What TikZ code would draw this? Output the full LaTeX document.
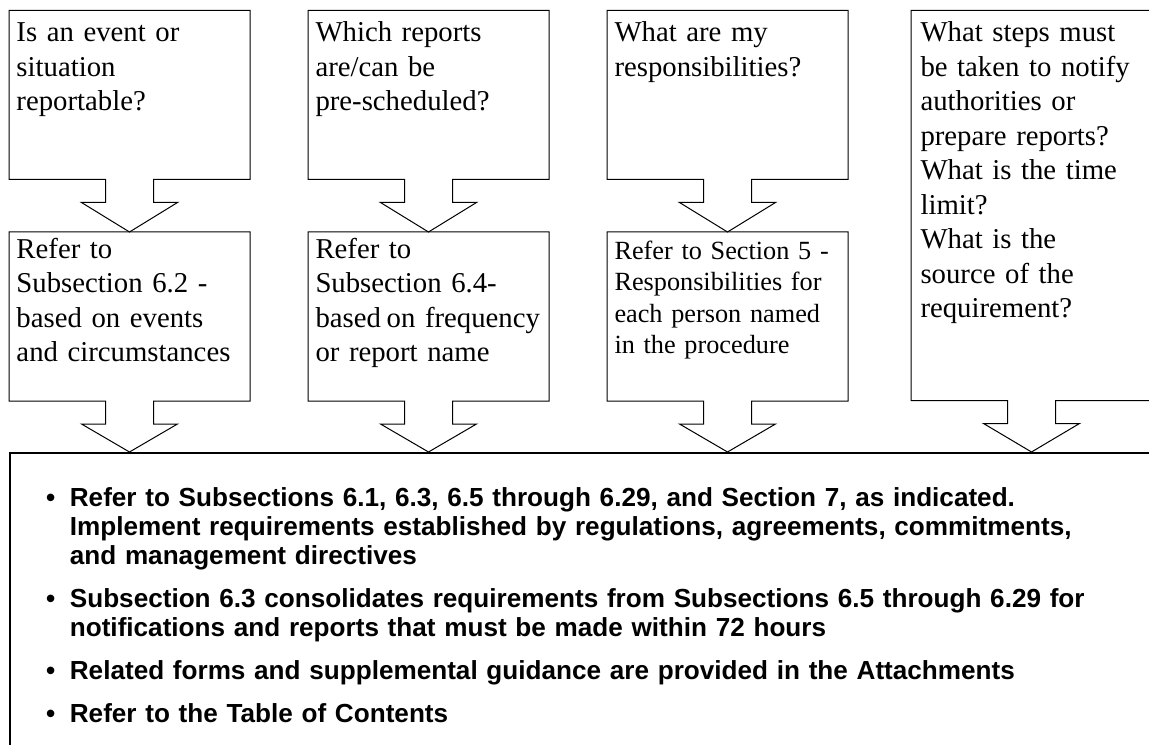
\documentclass[tikz,border=0pt]{standalone}
\usepackage{fontspec}
\setmainfont{Liberation Serif}
\newfontfamily\notesfont{Liberation Sans}
\usepackage{tikz}
\usetikzlibrary{positioning,calc}
\tikzset{
  node-ask/.style={rectangle,inner xsep=2.8pt,inner ysep=0pt,
    text width=90.4pt,align=left,text height=12.4pt,text depth=54.8pt,
    font=\fontsize{11.5}{13.8}\selectfont},
  node-ref/.style={node-ask,text height=10.4pt,text depth=56.8pt},
  node-notes/.style={draw,line width=0.7pt,inner xsep=14.2pt,inner ysep=0pt,
    text width=440pt,text height=10pt,text depth=130pt,
    font=\notesfont\bfseries\fontsize{10.45}{11.6}\selectfont},
  callout-line/.style={draw,line width=0.4pt,line join=miter},
}
% box with a down arrow that ends on the top of the next box
\newcommand\drawcallout[2]{%
  \draw[callout-line] ([xshift=-9.6pt]#1.south) -- (#1.south west) -- (#1.north west)
    -- (#1.north east) -- (#1.south east) -- ([xshift=9.6pt]#1.south)
    -- ([xshift=9.6pt,yshift=-9.2pt]#1.south) -- ([xshift=19.2pt,yshift=-9.2pt]#1.south)
    -- (#1.south |- #2.north) -- ([xshift=-19.2pt,yshift=-9.2pt]#1.south)
    -- ([xshift=-9.6pt,yshift=-9.2pt]#1.south) -- cycle;}

\begin{document}
\begin{tikzpicture}[x=0.4pt,y=-0.4pt]
  \useasboundingbox (0,0) rectangle (1149,745);
  \clip (0,0) rectangle (1149,745);
  % questions
  \node[node-ask,anchor=north west] (ev) at (9,10.5) {Is an event or\\situation\\reportable?};
  \node[node-ask,anchor=north west] (sch) at ([xshift=23.2pt]ev.north east)
    {Which reports\\are/can be\\pre-scheduled?};
  \node[node-ask,anchor=north west] (resp) at ([xshift=23.2pt]sch.north east)
    {What are my\\responsibilities?};
  \node[node-ask,anchor=north west,text depth=143.2pt,inner xsep=3.6pt,text width=88.8pt] (steps)
    at ([xshift=25.2pt]resp.north east)
    {What steps must\\be taken to notify\\authorities or\\prepare reports?\\What is the time\\limit?\\What is the\\source of the\\requirement?};
  % where to look
  \node[node-ref,below=21pt of ev] (ref62) {Refer to\\Subsection 6.2 -\\based on events\\and circumstances};
  \node[node-ref,below=21pt of sch] (ref64)
    {Refer to\\Subsection 6.4-\\\mbox{based\hspace{0.2em}on frequency}\\or report name};
  \node[node-ref,below=21pt of resp,font=\fontsize{10.5}{12.6}\selectfont,
    text height=10.8pt,text depth=56.4pt] (ref5)
    {Refer to Section 5 -\\Responsibilities for\\each person named\\in the procedure};
  % common notes
  \node[node-notes,anchor=north west] (notes) at (9,452) {%
    \begin{list}{\textbullet}{\setlength\leftmargin{9.8pt}\setlength\labelwidth{4pt}%
      \setlength\labelsep{5.8pt}\setlength\itemsep{5.6pt}\setlength\parsep{0pt}%
      \setlength\topsep{0pt}}
    \item Refer to Subsections 6.1, 6.3, 6.5 through 6.29, and Section 7, as indicated.\newline
      Implement requirements established by regulations, agreements, commitments,\newline
      and management directives
    \item Subsection 6.3 consolidates requirements from Subsections 6.5 through 6.29 for\newline
      notifications and reports that must be made within 72 hours
    \item Related forms and supplemental guidance are provided in the Attachments
    \item Refer to the Table of Contents
    \end{list}};
  \drawcallout{ev}{ref62}
  \drawcallout{sch}{ref64}
  \drawcallout{resp}{ref5}
  \drawcallout{ref62}{notes}
  \drawcallout{ref64}{notes}
  \drawcallout{ref5}{notes}
  \drawcallout{steps}{notes}
\end{tikzpicture}
\end{document}
